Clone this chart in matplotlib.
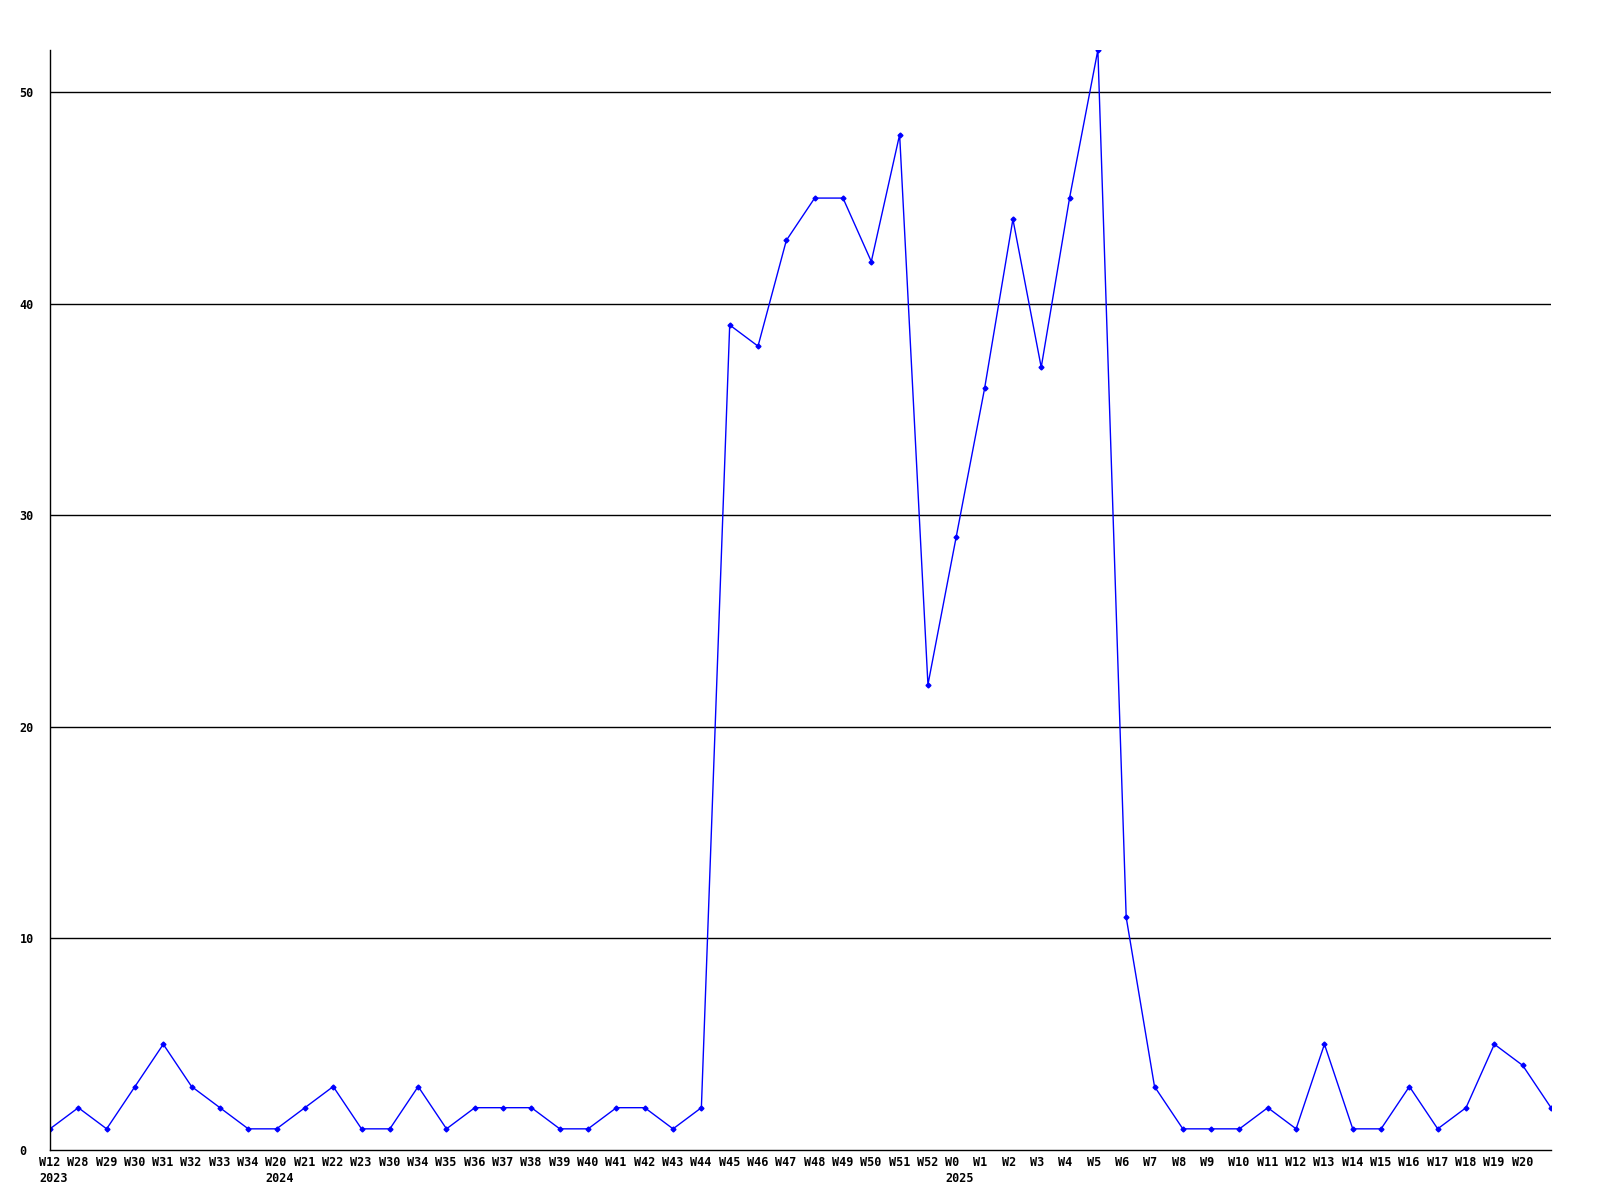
import matplotlib.pyplot as plt
import matplotlib as mpl

# weekly counts
weeks = ["W12", "W28", "W29", "W30", "W31", "W32", "W33", "W34",
         "W20", "W21", "W22", "W23", "W30", "W34", "W35", "W36", "W37", "W38",
         "W39", "W40", "W41", "W42", "W43", "W44", "W45", "W46", "W47", "W48",
         "W49", "W50", "W51", "W52",
         "W0", "W1", "W2", "W3", "W4", "W5", "W6", "W7", "W8", "W9", "W10",
         "W11", "W12", "W13", "W14", "W15", "W16", "W17", "W18", "W19", "W20", ""]
years = {0: "2023", 8: "2024", 32: "2025"}
counts = [1, 2, 1, 3, 5, 3, 2, 1,
          1, 2, 3, 1, 1, 3, 1, 2, 2, 2,
          1, 1, 2, 2, 1, 2, 39, 38, 43, 45,
          45, 42, 48, 22,
          29, 36, 44, 37, 45, 52, 11, 3, 1, 1, 1,
          2, 1, 5, 1, 1, 3, 1, 2, 5, 4, 2]
yticks = [0, 10, 20, 30, 40, 50]

mpl.rcParams['font.family'] = 'DejaVu Sans Mono'
mpl.rcParams['font.weight'] = 'bold'

fig = plt.figure(figsize=(16, 12), dpi=100)
ax = fig.add_axes([50 / 1600, 50 / 1200, 1501 / 1600, 1100 / 1200])

x = list(range(len(counts)))
ax.plot(x, counts, color=(0, 0, 1), lw=1, marker='D', markersize=2.5)

for y in yticks[1:]:
    ax.axhline(y, color='black', lw=1, zorder=0)

ax.set_xticks(x)
ax.set_xticklabels([])
ax.set_yticks(yticks)
ax.set_yticklabels([str(v) for v in yticks], fontsize=8.5, fontweight='bold',
                   ha='left')
ax.tick_params(length=0)
ax.tick_params(axis='y', pad=22)

# week labels start a little left of their point, year below the first week
for i, wk in enumerate(weeks):
    ax.annotate(wk, xy=(i, 0), xycoords=('data', 'axes fraction'),
                xytext=(-8, -4.5), textcoords='offset points',
                ha='left', va='top', fontsize=8.5, fontweight='bold',
                annotation_clip=False)
for i, yr in years.items():
    ax.annotate(yr, xy=(i, 0), xycoords=('data', 'axes fraction'),
                xytext=(-8, -15.5), textcoords='offset points',
                ha='left', va='top', fontsize=8.5, fontweight='bold',
                annotation_clip=False)

ax.set_xlim(0, len(counts) - 1)
ax.set_ylim(0, 52)
ax.spines['top'].set_visible(False)
ax.spines['right'].set_visible(False)
for s in ('left', 'bottom'):
    ax.spines[s].set_linewidth(1)
    ax.spines[s].set_color('black')

fig.savefig('out.png', dpi=100)
